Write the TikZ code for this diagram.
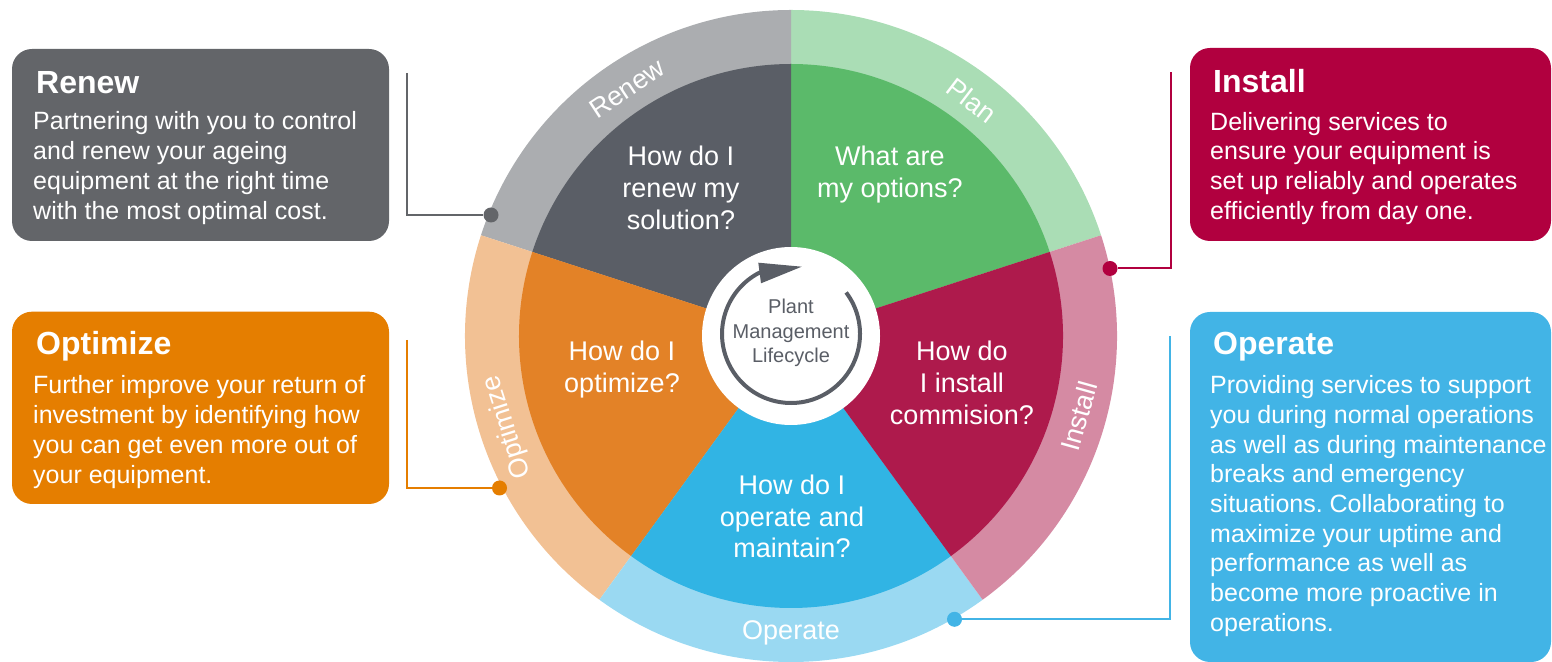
\documentclass[tikz,border=0pt]{standalone}
\usepackage{fontspec}
\setmainfont{Liberation Sans}
\frenchspacing
\definecolor{renewdark}{HTML}{5A5E66}
\definecolor{renewring}{HTML}{ABADB0}
\definecolor{renewbox}{HTML}{636569}
\definecolor{plandark}{HTML}{5BBA6A}
\definecolor{planring}{HTML}{AADDB5}
\definecolor{instdark}{HTML}{AE1A4C}
\definecolor{instring}{HTML}{D58AA3}
\definecolor{instbox}{HTML}{B1003F}
\definecolor{opdark}{HTML}{31B4E4}
\definecolor{opring}{HTML}{9AD9F2}
\definecolor{opbox}{HTML}{42B4E6}
\definecolor{optdark}{HTML}{E38227}
\definecolor{optring}{HTML}{F2C194}
\definecolor{optbox}{HTML}{E57E00}
\newcommand\qfnt{\fontsize{27}{31.6}\selectfont}
\newcommand\bodyfnt{\fontsize{25}{30}\selectfont}
\newcommand\bodyfntr{\fontsize{25}{29.7}\selectfont}
\newcommand\headfnt{\fontsize{32}{36}\selectfont\bfseries}
\newcommand\ringfnt{\fontsize{27}{27}\selectfont}
\begin{document}
\begin{tikzpicture}[x=1pt,y=1pt,
  infobox/.style={rounded corners=20pt},
  question/.style={anchor=base, inner sep=0pt, text=white},
  heading/.style={anchor=base west, inner sep=0pt, text=white, font=\headfnt},
  bodytext/.style={anchor=base west, inner sep=0pt, text=white},
  leader/.style={line width=2pt},
  dotmark/.style={circle, inner sep=0pt, minimum size=15pt, fill=#1},
  ringlabel/.style={inner sep=0pt, text=white, font=\ringfnt, anchor=center}
]
\useasboundingbox (0,0) rectangle (1552,661);
\coordinate (C) at (791,325);
\coordinate (A) at (791,327);

% outer ring
\fill[planring] (C) -- ++(18:326) arc[start angle=18,end angle=90,radius=326] -- cycle;
\fill[renewring] (C) -- ++(90:326) arc[start angle=90,end angle=162,radius=326] -- cycle;
\fill[optring] (C) -- ++(162:326) arc[start angle=162,end angle=234,radius=326] -- cycle;
\fill[opring] (C) -- ++(234:326) arc[start angle=234,end angle=306,radius=326] -- cycle;
\fill[instring] (C) -- ++(306:326) arc[start angle=306,end angle=378,radius=326] -- cycle;
% inner pie
\fill[plandark] (C) -- ++(18:272) arc[start angle=18,end angle=90,radius=272] -- cycle;
\fill[renewdark] (C) -- ++(90:272) arc[start angle=90,end angle=162,radius=272] -- cycle;
\fill[optdark] (C) -- ++(162:272) arc[start angle=162,end angle=234,radius=272] -- cycle;
\fill[opdark] (C) -- ++(234:272) arc[start angle=234,end angle=306,radius=272] -- cycle;
\fill[instdark] (C) -- ++(306:272) arc[start angle=306,end angle=378,radius=272] -- cycle;
% centre
\fill[white] (C) circle[radius=89];
\draw[renewdark, line width=4pt] (A) ++(37:69) arc[start angle=37,end angle=-244,radius=69];
\fill[renewdark, shift={(A)}] (-32.7,71.3) -- (10.7,67.3) -- (-30,50.7) -- cycle;
\node[anchor=base, inner sep=0pt, text=renewdark] (life) at (791,347)
  {\parbox[t]{160pt}{\centering\fontsize{20}{24.5}\selectfont Plant\\Management\\Lifecycle}};

% ring labels
\node[ringlabel, rotate=33.5] (lrenew) at ([shift={(123.5:297)}]C) {Renew};
\node[ringlabel, rotate=-37.5] (lplan) at ([shift={(52.5:297)}]C) {Plan};
\node[ringlabel, rotate=74.4] (linst) at ([shift={(-15.6:299)}]C) {Install};
\node[ringlabel, rotate=0] (lop) at ([shift={(-90:297)}]C) {Operate};
\node[ringlabel, rotate=107.8] (lopt) at ([shift={(197.8:298)}]C) {Optimize};

% questions
\node[question] (qrenew) at (681,495) {\parbox[t]{220pt}{\centering\qfnt How do I\\renew my\\solution?}};
\node[question] (qplan) at (890,495) {\parbox[t]{220pt}{\centering\qfnt What are\\my options?}};
\node[question] (qopt) at (622,300) {\parbox[t]{220pt}{\centering\qfnt How do I\\optimize?}};
\node[question] (qinst) at (962,300) {\parbox[t]{220pt}{\centering\qfnt How do\\I install\\commision?}};
\node[question] (qop) at (792,166.5) {\parbox[t]{220pt}{\centering\qfnt How do I\\operate and\\maintain?}};

% boxes
\fill[renewbox, infobox] (12,420) rectangle (389,612);
\fill[optbox, infobox] (12,157) rectangle (389,349.3);
\fill[instbox, infobox] (1190,420) rectangle (1551,613);
\fill[opbox, infobox] (1190,-1) rectangle (1551,349);

\node[heading] (hrenew) at (36,567.7) {Renew};
\node[heading] (hopt) at (36,306) {Optimize};
\node[heading] (hinst) at (1213,568.7) {Install};
\node[heading] (hop) at (1213,306) {Operate};

\node[bodytext] (trenew) at (33,531) {\parbox[t]{360pt}{\raggedright\bodyfnt Partnering with you to control\\and renew your ageing\\equipment at the right time\\with the most optimal cost.}};
\node[bodytext] (topt) at (33,267.7) {\parbox[t]{360pt}{\raggedright\bodyfnt Further improve your return of\\investment by identifying how\\you can get even more out of\\your equipment.}};
\node[bodytext] (tinst) at (1210,530.7) {\parbox[t]{345pt}{\raggedright\bodyfntr Delivering services to\\ensure your equipment is\\set up reliably and operates\\efficiently from day one.}};
\node[bodytext] (top) at (1210,267.3) {\parbox[t]{345pt}{\raggedright\bodyfntr Providing services to support\\you during normal operations\\as well as during maintenance\\breaks and emergency\\situations. Collaborating to\\maximize your uptime and\\performance as well as\\become more proactive in\\operations.}};

% leaders
\coordinate (rnA) at (407,588);
\coordinate (rnB) at (407,446);
\node[dotmark=renewbox] (rnD) at (491,446) {};
\draw[leader, renewbox] (rnA) -- (rnB) -- (rnD);
\coordinate (otA) at (407,321);
\coordinate (otB) at (407,173);
\node[dotmark=optbox] (otD) at (499.5,173) {};
\draw[leader, optbox] (otA) -- (otB) -- (otD);
\coordinate (inA) at (1171,588.5);
\coordinate (inB) at (1171,392.5);
\node[dotmark=instbox] (inD) at (1110,392.5) {};
\draw[leader, instbox] (inA) -- (inB) -- (inD);
\coordinate (opA) at (1170,325);
\coordinate (opB) at (1170,41.7);
\node[dotmark=opbox] (opD) at (954.5,41.7) {};
\draw[leader, opbox] (opA) -- (opB) -- (opD);
\end{tikzpicture}
\end{document}
